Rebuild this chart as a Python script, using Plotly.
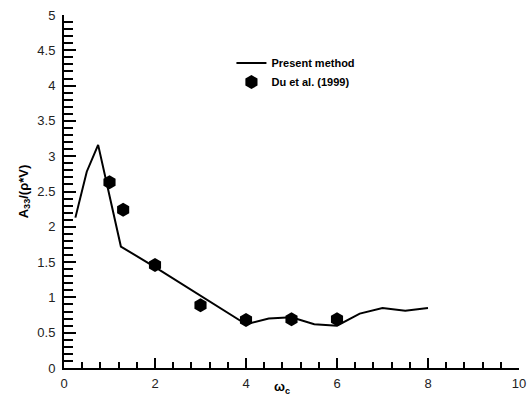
import plotly.graph_objects as go

# Present method (line)
omega_line = [0.25, 0.5, 0.75, 1.25, 2.0, 3.0, 4.0, 4.5, 5.0, 5.5, 6.0, 6.5, 7.0, 7.5, 8.0]
a33_line = [2.13, 2.78, 3.16, 1.72, 1.43, 1.02, 0.62, 0.70, 0.72, 0.62, 0.60, 0.77, 0.85, 0.81, 0.85]

# Du et al. (1999) (symbols)
omega_du = [1.0, 1.3, 2.0, 3.0, 4.0, 5.0, 6.0]
a33_du = [2.63, 2.24, 1.46, 0.89, 0.68, 0.69, 0.69]

x_ticks = [0, 2, 4, 6, 8, 10]
y_ticks = [0, 0.5, 1, 1.5, 2, 2.5, 3, 3.5, 4, 4.5, 5]
y_ticklabels = ["0", "0.5", "1", "1.5", "2", "2.5", "3", "3.5", "4", "4.5", "5"]

fig = go.Figure()
fig.add_trace(go.Scatter(
    x=omega_line, y=a33_line, mode="lines", name="Present method",
    line=dict(color="black", width=2)))
fig.add_trace(go.Scatter(
    x=omega_du, y=a33_du, mode="markers", name="Du et al. (1999)",
    marker=dict(symbol="hexagon", size=14, color="black")))

axis_font = dict(family="Liberation Sans, Arial, sans-serif", size=13, color="#222")
title_font = dict(family="Liberation Sans, Arial, sans-serif", size=13, color="black", weight="bold")

fig.update_layout(
    width=531, height=405,
    margin=dict(l=64, r=12, t=15, b=37),
    plot_bgcolor="white", paper_bgcolor="white",
    showlegend=True,
    legend=dict(
        x=0.368, y=0.905, xanchor="left", yanchor="top",
        bgcolor="rgba(0,0,0,0)", tracegroupgap=0,
        font=dict(family="Liberation Sans, Arial, sans-serif", size=11, color="black", weight="bold"),
        itemwidth=30,
    ),
    xaxis=dict(
        range=[0, 10], tickvals=x_ticks, ticktext=[str(v) for v in x_ticks],
        ticks="inside", ticklen=10, tickwidth=2, tickcolor="black",
        ticklabelstandoff=2,
        showline=True, linecolor="black", linewidth=2,
        showgrid=False, zeroline=False, tickfont=axis_font, automargin=False,
        minor=dict(ticks="inside", tickmode="linear", tick0=0, dtick=0.4,
                   ticklen=6, tickwidth=2, tickcolor="black", showgrid=False),
    ),
    yaxis=dict(
        range=[0, 5], tickvals=y_ticks, ticktext=y_ticklabels,
        ticks="inside", ticklen=12, tickwidth=2, tickcolor="black",
        ticklabelstandoff=4,
        showline=True, linecolor="black", linewidth=2,
        showgrid=False, zeroline=False, tickfont=axis_font, automargin=False,
        minor=dict(ticks="inside", tickmode="linear", tick0=0, dtick=0.1,
                   ticklen=9, tickwidth=2, tickcolor="black", showgrid=False),
        title=dict(text="A<sub>33</sub>/(ρ*V)", standoff=6, font=title_font),
    ),
    annotations=[dict(
        text="ω<sub>c</sub>", xref="paper", yref="paper", x=0.48, y=-0.056,
        xanchor="center", yanchor="middle", showarrow=False, font=title_font,
    )],
)

fig.write_html(
    "out.html",
    config={"displayModeBar": False},
    post_script="document.body.style.margin='0';",
)
